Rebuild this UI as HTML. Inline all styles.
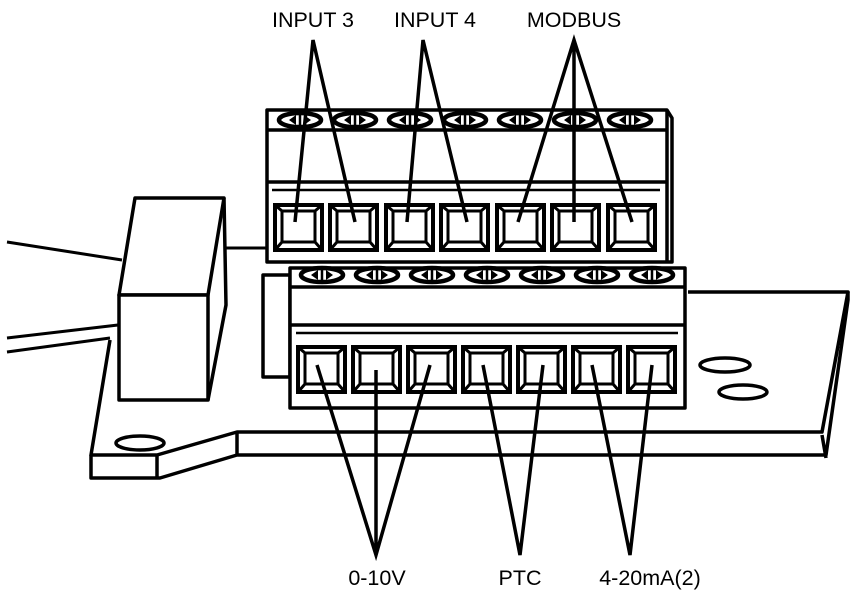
<!DOCTYPE html>
<html><head><style>html,body{margin:0;padding:0;background:#fff}svg{display:block}</style></head><body>
<svg width="856" height="592" viewBox="0 0 856 592" xmlns="http://www.w3.org/2000/svg">
<defs>
<g id="sq">
<rect x="0" y="0" width="47" height="45" fill="#fff" stroke="#000" stroke-width="4"/>
<rect x="7" y="6" width="33" height="31" fill="#fff" stroke="#000" stroke-width="3"/>
<path d="M0 0L7 6M47 0L40 6M0 45L7 37M47 45L40 37" stroke="#000" stroke-width="3"/>
</g>
<g id="sc">
<ellipse cx="0" cy="0" rx="21" ry="7" fill="#fff" stroke="#000" stroke-width="4.5"/>
<path d="M-11 0L-4 -5V5Z M11 0L4 -5V5Z" fill="#000"/>
<line x1="0" y1="-7" x2="0" y2="7" stroke="#000" stroke-width="2.5"/>
</g>
</defs>
<g fill="none" stroke="#000" stroke-width="3.5" stroke-linejoin="round">
<path d="M110 340L91 455H157L237 432H822L848 292H688" fill="#fff"/>
<path d="M91 455V478H160L237 455H826L848 300V292M157 455V478M237 432V455M822 435L826 458"/>
<ellipse cx="140" cy="443" rx="24" ry="7"/>
<ellipse cx="725" cy="365" rx="25" ry="7"/>
<ellipse cx="743" cy="392" rx="24" ry="7"/>
<path d="M7 242L122 260M7 338L118 325M7 352L110 338M226 248H267" stroke-width="3"/>
<path d="M119 295L135 198H224L208 295Z" fill="#fff"/>
<path d="M224 198L226 305L208 400" fill="#fff"/>
<rect x="119" y="295" width="89" height="105" fill="#fff"/>
<path d="M267 110H667L672 118V262H267Z" fill="#fff"/>
<path d="M667 110V262M267 130H667M267 182H667" />
<path d="M272 190H660" stroke-width="2.5"/>
<path d="M263 275H290V377H263Z" fill="#fff"/>
<path d="M290 268H685V408H290Z" fill="#fff"/>
<path d="M290 287H685M290 325H685"/>
<path d="M296 333H678" stroke-width="2.5"/>
</g>
<g>
<use href="#sc" x="300" y="120"/><use href="#sc" x="355" y="120"/><use href="#sc" x="410" y="120"/><use href="#sc" x="465" y="120"/><use href="#sc" x="520" y="120"/><use href="#sc" x="575" y="120"/><use href="#sc" x="630" y="120"/>
<use href="#sc" x="322" y="275"/><use href="#sc" x="377" y="275"/><use href="#sc" x="432" y="275"/><use href="#sc" x="487" y="275"/><use href="#sc" x="542" y="275"/><use href="#sc" x="597" y="275"/><use href="#sc" x="652" y="275"/>
<use href="#sq" x="275" y="205"/><use href="#sq" x="330" y="205"/><use href="#sq" x="386" y="205"/><use href="#sq" x="441" y="205"/><use href="#sq" x="497" y="205"/><use href="#sq" x="552" y="205"/><use href="#sq" x="608" y="205"/>
<use href="#sq" x="298" y="347"/><use href="#sq" x="353" y="347"/><use href="#sq" x="408" y="347"/><use href="#sq" x="463" y="347"/><use href="#sq" x="518" y="347"/><use href="#sq" x="573" y="347"/><use href="#sq" x="628" y="347"/>
</g>
<g stroke="#000" stroke-width="3.5" fill="none">
<path d="M295 222L313 40L355 222M407 222L423 40L467 222M518 222L574 40L632 222M574 40V222"/>
<path d="M317 365L376 555L430 365M376 370V555M483 365L520 555L543 365M592 365L630 555L652 365"/>
</g>
<g font-family="Liberation Sans, Arial, sans-serif" font-size="21.5" text-anchor="middle" fill="#000">
<text x="313" y="27">INPUT 3</text>
<text x="435" y="27">INPUT 4</text>
<text x="574" y="27">MODBUS</text>
<text x="377" y="585">0-10V</text>
<text x="520" y="585">PTC</text>
<text x="650" y="585">4-20mA(2)</text>
</g>
</svg>
</body></html>
